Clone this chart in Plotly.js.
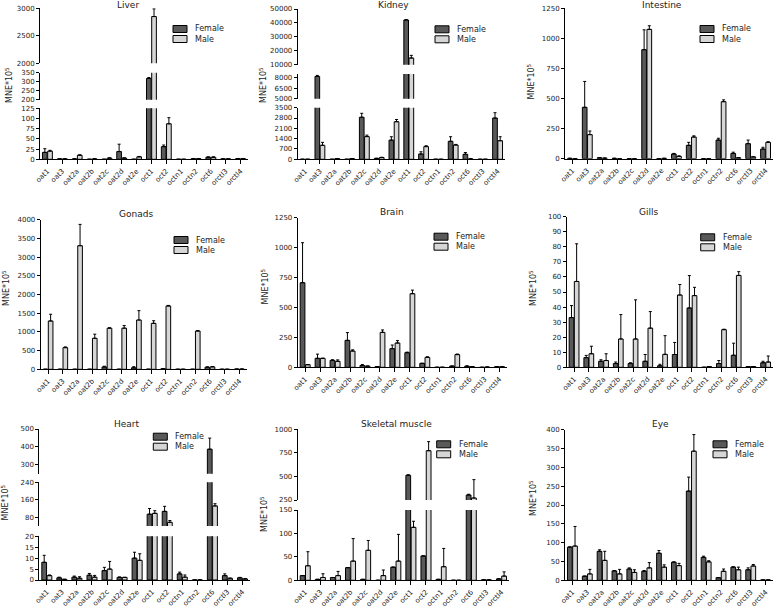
<!DOCTYPE html>
<html><head><meta charset="utf-8">
<script src="https://cdn.plot.ly/plotly-3.0.1.min.js"></script>
<style>html,body{margin:0;padding:0;background:#fff}#chart{width:778px;height:607px}</style>
</head><body><div id="chart"></div>
<script>
// ---------- DATA ----------
const categories = ['oat1','oat3','oat2a','oat2b','oat2c','oat2d','oat2e','oct1','oct2','octn1','octn2','oct6','orctl3','orctl4'];
const seriesNames = ['Female','Male'];
const yTitle = 'MNE*10<sup>5</sup>';

const liverFemale    = [17,1,1,0,0,19,0,318,31,0,1.5,5,1,1.5];
const liverFemaleErr = [9,0,0,0,0,18,0,5,4,0,0.5,1,0,0.5];
const liverMale      = [20,1,10,1,3,3,6,2850,87,0,1.5,5,1,1.5];
const liverMaleErr   = [2,0,1,0,0.5,0.5,1,140,15,0,0.5,1,0,0.5];

const kidneyFemale    = [0,8150,0,0,2850,60,1300,42100,360,0,1220,340,0,2800];
const kidneyFemaleErr = [0,150,0,0,270,10,230,300,150,0,310,120,0,360];
const kidneyMale      = [0,950,50,50,1540,120,2550,14800,860,0,970,30,0,1260];
const kidneyMaleErr   = [0,200,0,0,100,20,150,1900,60,0,40,0,0,270];

const intestineFemale    = [3,427,8,3,0,906,0,39,111,0,155,44,125,80];
const intestineFemaleErr = [0,215,0,0,0,165,0,5,25,0,15,10,30,15];
const intestineMale      = [0,200,5,0,0,1075,3,19,180,0,474,8,15,136];
const intestineMaleErr   = [0,30,0,0,0,30,0,5,10,0,15,0,0,5];

const gonadsFemale    = [0,0,0,0,62,0,40,0,15,0,0,55,0,5];
const gonadsFemaleErr = [0,0,0,0,20,0,30,0,0,0,0,10,0,0];
const gonadsMale      = [1292,579,3305,829,1100,1100,1318,1229,1693,0,1024,65,0,5];
const gonadsMaleErr   = [180,20,570,110,10,70,250,70,15,0,10,10,0,0];

const brainFemale    = [707,75,58,225,15,5,156,122,33,0,10,8,0,5];
const brainFemaleErr = [334,35,5,65,8,0,30,5,0,0,0,5,0,0];
const brainMale      = [22,75,50,136,10,292,203,615,83,0,106,5,2,5];
const brainMaleErr   = [0,0,12,10,0,20,20,30,5,0,5,0,0,0];

const gillsFemale    = [33,6.4,4,2.5,2.5,4,1,8.5,39.4,0,2.5,8,0.5,3];
const gillsFemaleErr = [8,1.5,1,1,0.5,4.5,1,8,21.5,0,2,8,0,1];
const gillsMale      = [57,9,4.5,18.8,18.8,26,8.6,48,47.6,0.5,25,61,0.5,3.5];
const gillsMaleErr   = [25,5,4.5,16.2,26,11,12.4,7,5.5,0,0.3,2.5,0,4];

const heartFemale    = [8.1,1,1.3,2.2,4.3,1.2,10,94,107,2.8,0,387,2,1];
const heartFemaleErr = [3.2,0.3,0.5,0.8,1.5,0.2,2.7,26,23,0.8,0,62,0.8,0.2];
const heartMale      = [2,0.3,0.8,1.3,5,1.2,9,98,57,1.3,0,132,0.8,0.5];
const heartMaleErr   = [0.3,0,0.7,0.8,3.5,0,3,12,8,1,0,10,0,0.2];

const muscleFemale    = [10,2,6,27,2,0,28,512,52,2,0,303,1,3];
const muscleFemaleErr = [0,0,0,0,0,0,0,6,0,0,0,8,0,0];
const muscleMale      = [31,6,10,41,64,10,41,113,773,29,0,271,1,9];
const muscleMaleErr   = [30,8,9,48,21,12,57,13,96,39,0,195,0,9];

const eyeFemale    = [88,11,77,25,30,24,72,48,237,61,7,35,28,1];
const eyeFemaleErr = [1,0,4,1,3,2,7,1,37,3,0,1,5,0];
const eyeMale      = [91,17,53,17,21,33,35,39,343,49,24,28,38,1];
const eyeMaleErr   = [52,12,24,12,7,14,6,6,44,3,6,7,4,0];

// tick labels for each axis segment (top -> bottom)
const liverTicks     = [[2000,2500,3000],[200,250,300,350],[0,25,50,75,100,125]];
const kidneyTicks    = [[10000,20000,30000,40000,50000],[5000,6500,8000],[0,700,1400,2100,2800,3500]];
const intestineTicks = [[0,250,500,750,1000,1250]];
const gonadsTicks    = [[0,500,1000,1500,2000,2500,3000,3500,4000]];
const brainTicks     = [[0,250,500,750,1000,1250]];
const gillsTicks     = [[0,10,20,30,40,50,60,70,80,90,100]];
const heartTicks     = [[300,400,500],[80,160,240],[0,5,10,15,20]];
const muscleTicks    = [[250,500,750,1000],[0,50,100,150]];
const eyeTicks       = [[0,50,100,150,200,250,300,350,400]];

// ---------- LAYOUT CONFIG (pixel geometry) ----------
const W = 778, H = 607;
const FONT = 'DejaVu Sans';
const femaleColor = '#595959', maleColor = '#d6d6d6';

const panels = [
  {title:'Liver', F:liverFemale, FE:liverFemaleErr, M:liverMale, ME:liverMaleErr, x0:40, x1:248,
   segs:[[8.3,63.3,[2000,3000],liverTicks[0]],[72.7,99.7,[200,350],liverTicks[1]],[108.3,159.3,[0,125],liverTicks[2]]],
   t:[128,5], lg:[173,29], yt:[9,85]},
  {title:'Kidney', F:kidneyFemale, FE:kidneyFemaleErr, M:kidneyMale, ME:kidneyMaleErr, x0:297.7, x1:505,
   segs:[[9,64.7,[10000,50000],kidneyTicks[0]],[74,98.7,[5000,8500],kidneyTicks[1]],[107.7,159.3,[0,3500],kidneyTicks[2]]],
   t:[393,5], lg:[435,29.3], yt:[263,85]},
  {title:'Intestine', F:intestineFemale, FE:intestineFemaleErr, M:intestineMale, ME:intestineMaleErr, x0:565, x1:773,
   segs:[[8.3,158.7,[0,1250],intestineTicks[0]]],
   t:[662,5], lg:[700,29], yt:[530.5,82]},
  {title:'Gonads', F:gonadsFemale, FE:gonadsFemaleErr, M:gonadsMale, ME:gonadsMaleErr, x0:40.7, x1:246.7,
   segs:[[219.7,369.3,[0,4000],gonadsTicks[0]]],
   t:[136,214], lg:[174,240], yt:[6,288]},
  {title:'Brain', F:brainFemale, FE:brainFemaleErr, M:brainMale, ME:brainMaleErr, x0:297.7, x1:507,
   segs:[[217.7,367.3,[0,1250],brainTicks[0]]],
   t:[392,211.7], lg:[434,236.7], yt:[264.5,287]},
  {title:'Gills', F:gillsFemale, FE:gillsFemaleErr, M:gillsMale, ME:gillsMaleErr, x0:566.7, x1:773,
   segs:[[216.7,367.3,[0,100],gillsTicks[0]]],
   t:[648,211.7], lg:[700.7,237.3], yt:[533,288]},
  {title:'Heart', F:heartFemale, FE:heartFemaleErr, M:heartMale, ME:heartMaleErr, x0:39.3, x1:250,
   segs:[[429,473.7,[250,500],heartTicks[0]],[482.3,526,[40,240],heartTicks[1]],[536.3,580,[0,20],heartTicks[2]]],
   t:[127,424.3], lg:[153.3,436.7], yt:[4.5,503]},
  {title:'Skeletal muscle', F:muscleFemale, FE:muscleFemaleErr, M:muscleMale, ME:muscleMaleErr, x0:297.7, x1:509,
   segs:[[429.3,500,[250,1000],muscleTicks[0]],[510,580.3,[0,150],muscleTicks[1]]],
   t:[396,424.3], lg:[436.7,444.3], yt:[264,514]},
  {title:'Eye', F:eyeFemale, FE:eyeFemaleErr, M:eyeMale, ME:eyeMaleErr, x0:565, x1:773,
   segs:[[429.7,580.3,[0,400],eyeTicks[0]]],
   t:[660,424.3], lg:[713,444.3], yt:[533,498]}
];

const px = v => v / W;
const py = v => 1 - v / H;
const tickFont = {family:FONT, size:7, color:'#222'};

const layout = {
  width:W, height:H, margin:{l:0,r:0,t:0,b:0},
  paper_bgcolor:'#fff', plot_bgcolor:'rgba(0,0,0,0)',
  showlegend:false, barmode:'group', bargap:0.3, bargroupgap:0.1,
  font:{family:FONT, size:7, color:'#222'},
  annotations:[], shapes:[]
};
const data = [];
let yCount = 0;

panels.forEach((p, i) => {
  const xn = i + 1;
  const xid = 'x' + (xn === 1 ? '' : xn);
  const xkey = 'xaxis' + (xn === 1 ? '' : xn);
  let bottomYid = null;
  p.segs.forEach((s, j) => {
    yCount++;
    const yid = 'y' + (yCount === 1 ? '' : yCount);
    const ykey = 'yaxis' + (yCount === 1 ? '' : yCount);
    layout[ykey] = {
      domain:[py(s[1]), py(s[0])], range:s[2], anchor:xid,
      tickvals:s[3], tickformat:'d', ticks:'outside', ticklen:3, tickwidth:1, tickcolor:'#000',
      showline:true, linecolor:'#000', linewidth:1, showgrid:false, zeroline:false,
      tickfont:tickFont, fixedrange:true
    };
    if (j === p.segs.length - 1) bottomYid = yid;
    [[p.F, p.FE, femaleColor], [p.M, p.ME, maleColor]].forEach(([v, e, c], k) => {
      data.push({
        type:'bar', x:categories, y:v, xaxis:xid, yaxis:yid, name:seriesNames[k],
        marker:{color:c, line:{color:'#000', width:1}},
        error_y:{type:'data', symmetric:false, array:e, arrayminus:e.map(() => 0),
                 color:'#000', thickness:1, width:1.5},
        hoverinfo:'skip'
      });
    });
  });
  layout[xkey] = {
    domain:[px(p.x0), px(p.x1)], range:[-0.5, 13.5], type:'category', anchor:bottomYid,
    tickangle:-45, ticks:'outside', ticklen:4, tickwidth:1, tickcolor:'#000',
    showline:true, linecolor:'#000', linewidth:1, showgrid:false, zeroline:false,
    tickfont:tickFont, fixedrange:true
  };
  // panel title
  layout.annotations.push({text:p.title, xref:'paper', yref:'paper', x:px(p.t[0]), y:py(p.t[1]),
    xanchor:'center', yanchor:'middle', showarrow:false, font:{family:FONT, size:9, color:'#222'}});
  // y-axis title
  layout.annotations.push({text:yTitle, xref:'paper', yref:'paper', x:px(p.yt[0]), y:py(p.yt[1]),
    xanchor:'center', yanchor:'middle', textangle:-90, showarrow:false, font:{family:FONT, size:8, color:'#222'}});
  // legend (swatch + label)
  [femaleColor, maleColor].forEach((c, k) => {
    const cy = p.lg[1] + k * 10;
    layout.shapes.push({type:'rect', xref:'paper', yref:'paper',
      x0:px(p.lg[0]), x1:px(p.lg[0] + 14), y0:py(cy + 3.5), y1:py(cy - 3.5),
      fillcolor:c, line:{color:'#000', width:1}});
    layout.annotations.push({text:seriesNames[k], xref:'paper', yref:'paper',
      x:px(p.lg[0] + 20), y:py(cy), xanchor:'left', yanchor:'middle', showarrow:false,
      font:{family:FONT, size:8, color:'#222'}});
  });
});

Plotly.newPlot('chart', data, layout, {staticPlot:true, displayModeBar:false});
</script></body></html>
